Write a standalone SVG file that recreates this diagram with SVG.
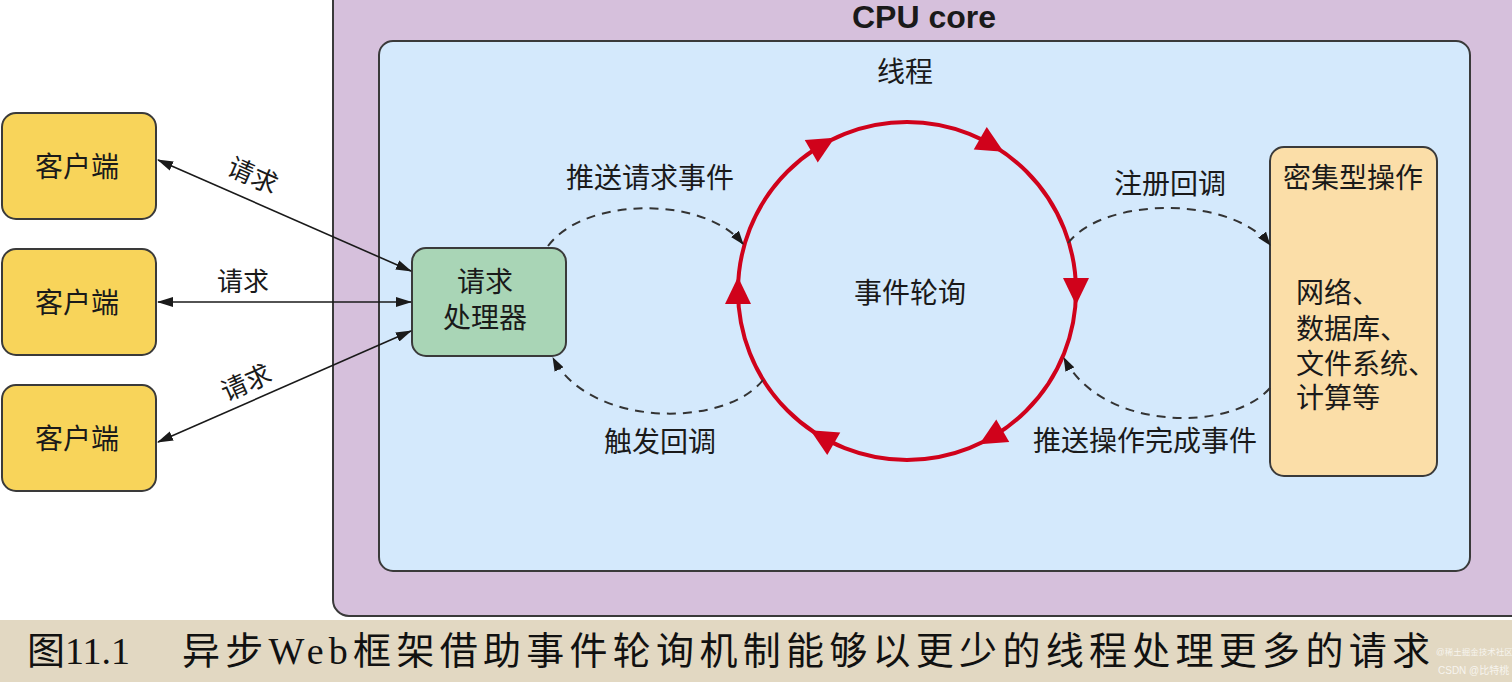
<svg xmlns="http://www.w3.org/2000/svg" width="1512" height="682" viewBox="0 0 1512 682">
<style>
.cjk{font-family:"Liberation Sans","Noto Sans CJK SC",sans-serif;fill:#1a1a1a}
.t28{font-size:28px}
.box{stroke:#3a3a3a;stroke-width:2}
.link{stroke:#1a1a1a;stroke-width:1.6;fill:none}
.dash{stroke:#333;stroke-width:2;fill:none;stroke-dasharray:9 7}
</style>
<defs>
<marker id="ah" markerUnits="userSpaceOnUse" markerWidth="16" markerHeight="10" refX="15" refY="5" orient="auto-start-reverse">
<path d="M0,0 L16,5 L0,10 z" fill="#1a1a1a"/>
</marker>
<marker id="dh" markerUnits="userSpaceOnUse" markerWidth="14" markerHeight="10" refX="13" refY="5" orient="auto">
<path d="M0,0 L14,5 L0,10 z" fill="#1a1a1a"/>
</marker>
<polygon id="rarrow" points="156,-13 182,-13 169,14" fill="#d0021b"/>
</defs>
<rect x="0" y="0" width="1512" height="682" fill="#ffffff"/>
<rect x="0" y="620" width="1512" height="62" fill="#e2d8c2"/>

<g id="cpu-core">
<rect class="box" x="333" y="-20" width="1200" height="636" rx="16" fill="#d6c0dc"/>
<text x="924" y="28" text-anchor="middle" font-family="Liberation Sans, Arial, sans-serif" font-weight="bold" font-size="32" fill="#1a1a1a">CPU core</text>
</g>
<g id="thread">
<rect class="box" x="379" y="41" width="1091" height="530" rx="14" fill="#d4e9fc"/>
<text class="cjk t28" x="905" y="82" text-anchor="middle">线程</text>
</g>

<g id="client1">
<rect class="box" x="2" y="113" width="154" height="106" rx="14" fill="#f8d45a"/>
<text class="cjk t28" x="77" y="177" text-anchor="middle">客户端</text>
</g>
<g id="client2">
<rect class="box" x="2" y="249" width="154" height="106" rx="14" fill="#f8d45a"/>
<text class="cjk t28" x="77" y="313" text-anchor="middle">客户端</text>
</g>
<g id="client3">
<rect class="box" x="2" y="385" width="154" height="106" rx="14" fill="#f8d45a"/>
<text class="cjk t28" x="77" y="449" text-anchor="middle">客户端</text>
</g>

<g id="handler">
<rect class="box" x="412" y="248" width="154" height="108" rx="14" fill="#a9d5b6"/>
<text class="cjk t28" x="485" y="292" text-anchor="middle">请求</text>
<text class="cjk t28" x="485" y="328" text-anchor="middle">处理器</text>
</g>

<g id="event-loop">
<circle cx="907" cy="291" r="169" fill="none" stroke="#d0021b" stroke-width="4"/>
<g transform="translate(907,291)">
<use href="#rarrow" transform="rotate(0)"/>
<use href="#rarrow" transform="rotate(60)"/>
<use href="#rarrow" transform="rotate(120)"/>
<use href="#rarrow" transform="rotate(180)"/>
<use href="#rarrow" transform="rotate(240)"/>
<use href="#rarrow" transform="rotate(300)"/>
</g>
<text class="cjk t28" x="910" y="303" text-anchor="middle">事件轮询</text>
</g>

<g id="intensive">
<rect class="box" x="1270" y="147" width="167" height="329" rx="14" fill="#fbdea8"/>
<text class="cjk t28" x="1353" y="188" text-anchor="middle">密集型操作</text>
<text class="cjk t28" x="1296" y="303">网络、</text>
<text class="cjk t28" x="1296" y="339">数据库、</text>
<text class="cjk t28" x="1296" y="374">文件系统、</text>
<text class="cjk t28" x="1296" y="408">计算等</text>
</g>

<g id="connectors">
<line class="link" x1="158" y1="160" x2="411" y2="271" marker-start="url(#ah)" marker-end="url(#ah)"/>
<line class="link" x1="158" y1="302" x2="411" y2="302" marker-start="url(#ah)" marker-end="url(#ah)"/>
<line class="link" x1="158" y1="442" x2="411" y2="331" marker-start="url(#ah)" marker-end="url(#ah)"/>
<path class="dash" d="M548,246 C585,196 705,196 743,244" marker-end="url(#dh)"/>
<path class="dash" d="M763,380 C725,428 590,428 553,358" marker-end="url(#dh)"/>
<path class="dash" d="M1068,243 C1105,196 1232,196 1270,245" marker-end="url(#dh)"/>
<path class="dash" d="M1270,388 C1232,432 1102,432 1064,358" marker-end="url(#dh)"/>
</g>

<g id="labels">
<text class="cjk" font-size="26" x="0" y="0" text-anchor="middle" transform="translate(249,184) rotate(24)">请求</text>
<text class="cjk" font-size="26" x="243" y="291" text-anchor="middle">请求</text>
<text class="cjk" font-size="26" x="0" y="0" text-anchor="middle" transform="translate(250,391) rotate(-24)">请求</text>
<text class="cjk t28" x="650" y="188" text-anchor="middle">推送请求事件</text>
<text class="cjk t28" x="660" y="452" text-anchor="middle">触发回调</text>
<text class="cjk t28" x="1170" y="194" text-anchor="middle">注册回调</text>
<text class="cjk t28" x="1145" y="451" text-anchor="middle">推送操作完成事件</text>
</g>

<g id="caption">
<text x="27" y="664" font-family="Liberation Serif,'Noto Sans CJK SC',serif" font-size="38" fill="#111">图11.1</text>
<text x="182" y="664" font-family="Liberation Serif,'Noto Sans CJK SC',serif" font-size="38" fill="#111" textLength="1248" lengthAdjust="spacing">异步Web框架借助事件轮询机制能够以更少的线程处理更多的请求</text>
<text x="1436" y="655" font-family="Liberation Sans,'Noto Sans CJK SC',sans-serif" font-size="8.5" fill="#ffffff" fill-opacity="0.75">@稀土掘金技术社区</text>
<text x="1438" y="674" font-family="Liberation Sans,'Noto Sans CJK SC',sans-serif" font-size="10" fill="#ffffff" fill-opacity="0.75">CSDN @比特桃</text>
</g>
</svg>
